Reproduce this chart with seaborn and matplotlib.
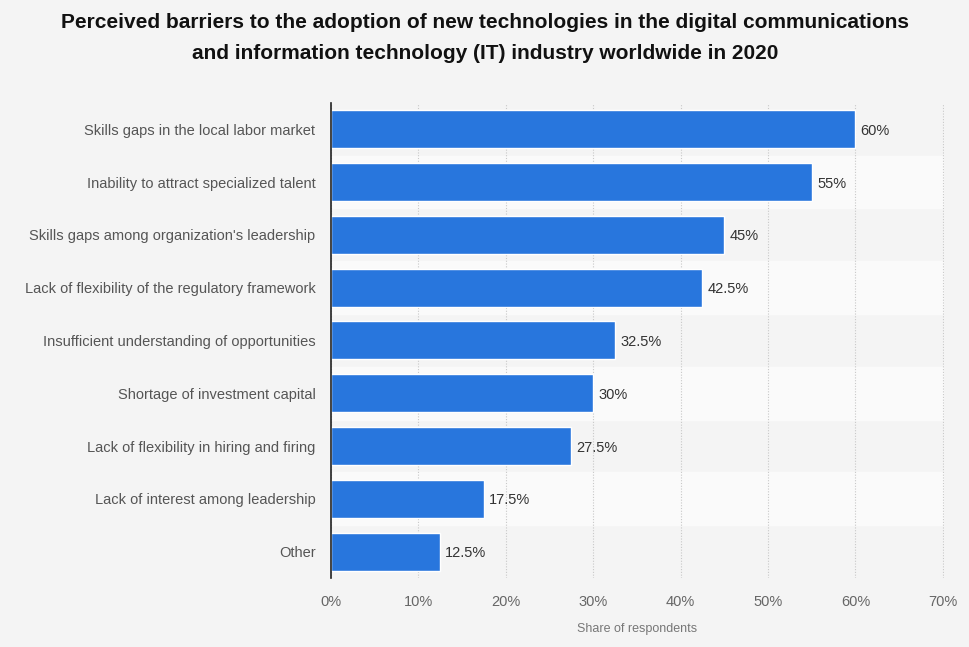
import matplotlib
matplotlib.use("Agg")
import matplotlib.pyplot as plt
import seaborn as sns
import pandas as pd

# data
barriers = [
    "Skills gaps in the local labor market",
    "Inability to attract specialized talent",
    "Skills gaps among organization's leadership",
    "Lack of flexibility of the regulatory framework",
    "Insufficient understanding of opportunities",
    "Shortage of investment capital",
    "Lack of flexibility in hiring and firing",
    "Lack of interest among leadership",
    "Other",
]
shares = [60, 55, 45, 42.5, 32.5, 30, 27.5, 17.5, 12.5]
x_ticks = [0, 10, 20, 30, 40, 50, 60, 70]

df = pd.DataFrame({"barrier": barriers, "share": shares})

sns.set_style("white")
plt.rcParams["font.family"] = ["Liberation Sans", "DejaVu Sans"]

bg = "#f4f4f4"
fig = plt.figure(figsize=(9.7, 6.47), dpi=100, facecolor=bg)
ax = fig.add_axes([0.341, 0.1066, 0.632, 0.7344])
ax.set_facecolor(bg)

# alternating row bands
for i in range(len(barriers)):
    if i % 2 == 1:
        ax.axhspan(i - 0.5, i + 0.5, color="#fafafa", zorder=0)

sns.barplot(data=df, x="share", y="barrier", color="#2876dd", width=0.72,
            saturation=1, ax=ax, zorder=3)

for i, v in enumerate(shares):
    ax.text(v + 0.6, i, f"{v:g}%", va="center_baseline", ha="left", fontsize=10.5,
            color="#333333", zorder=4)

ax.set_xlim(0, 70.1)
ax.set_ylim(len(barriers) - 0.5, -0.5)
ax.set_xticks(x_ticks)
ax.set_xticklabels([f"{t}%" for t in x_ticks])
ax.xaxis.grid(True, linestyle=(0, (1, 1.5)), color="#c8c8c8", linewidth=0.8, zorder=1)
ax.set_axisbelow(True)

ax.tick_params(axis="x", length=0, pad=12, labelsize=10.5, labelcolor="#666666")
ax.tick_params(axis="y", length=0, pad=11, labelsize=10.5, labelcolor="#555555")
ax.set_xlabel("Share of respondents", fontsize=9, color="#777777", labelpad=10)
ax.set_ylabel("")

for s in ["top", "right", "bottom"]:
    ax.spines[s].set_visible(False)
ax.spines["left"].set_color("#222222")
ax.spines["left"].set_linewidth(1.2)
ax.spines["left"].set_zorder(5)

fig.text(0.5, 0.941,
         "Perceived barriers to the adoption of new technologies in the digital communications\n"
         "and information technology (IT) industry worldwide in 2020",
         ha="center", va="center", fontsize=15, fontweight="bold",
         color="#111111", linespacing=1.8)

fig.savefig("out.png", dpi=100, facecolor=bg)
